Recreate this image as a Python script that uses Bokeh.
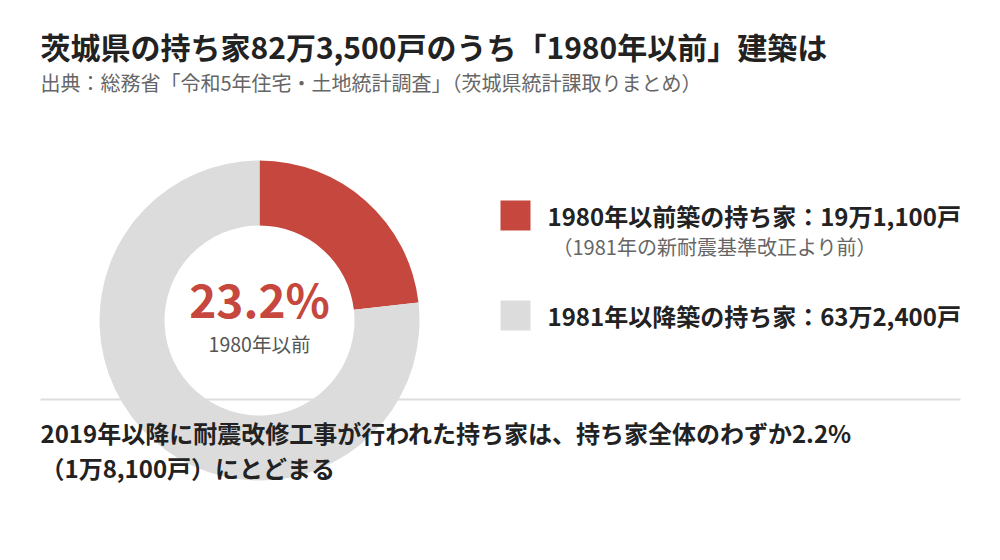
import math
from bokeh.plotting import figure
from bokeh.models import Range1d
from bokeh.core.properties import value
from bokeh.embed import file_html
from bokeh.resources import INLINE

# ---- data ----
categories = ["1980年以前築", "1981年以降築"]
households = [191100, 632400]
colors = ["#c5473d", "#dcdcdc"]
legend_labels = ["1980年以前築の持ち家：19万1,100戸", "1981年以降築の持ち家：63万2,400戸"]
legend_notes = ["（1981年の新耐震基準改正より前）", ""]
center_value = "23.2%"
center_label = "1980年以前"
title = "茨城県の持ち家82万3,500戸のうち「1980年以前」建築は"
subtitle = "出典：総務省「令和5年住宅・土地統計調査」（茨城県統計課取りまとめ）"
footnote_lines = ["2019年以降に耐震改修工事が行われた持ち家は、持ち家全体のわずか2.2%",
                  "（1万8,100戸）にとどまる"]

FONT = value("Noto Sans CJK JP")
W, H = 984, 544

def Y(py):
    return 560 - py

p = figure(width=W, height=H, output_backend="svg", toolbar_location=None,
           x_range=Range1d(0, 984), y_range=Range1d(16, 560),
           min_border=0, outline_line_color=None, background_fill_color="white",
           border_fill_color="white")
p.axis.visible = False
p.xgrid.visible = False
p.ygrid.visible = False

# donut
total = sum(households)
cx, cy = 259, Y(320)
start = math.pi / 2
for v, c in zip(households, colors):
    ang = 2 * math.pi * v / total
    p.annular_wedge(x=[cx], y=[cy], inner_radius=95, outer_radius=160,
                    start_angle=[start - ang], end_angle=[start],
                    fill_color=c, line_color=None,
                    inner_radius_units="data", outer_radius_units="data")
    start -= ang

# title
p.text(x=[40], y=[Y(45)], text=[title], text_font=FONT, text_font_style="bold",
       text_font_size="30px", text_color="#222222", text_baseline="middle")
p.text(x=[40], y=[Y(82)], text=[subtitle], text_font=FONT,
       text_font_size="20px", text_color="#666666", text_baseline="middle")

# center
p.text(x=[cx], y=[Y(297)], text=[center_value], text_font=FONT, text_font_style="bold",
       text_font_size="46px", text_color=colors[0], text_align="center", text_baseline="middle")
p.text(x=[cx], y=[Y(343)], text=[center_label], text_font=FONT,
       text_font_size="19.5px", text_color="#555555", text_align="center", text_baseline="middle")

# legend
leg_y = [215, 315]
for i in range(2):
    p.rect(x=[515], y=[Y(leg_y[i])], width=30, height=30, fill_color=colors[i], line_color=None)
    p.text(x=[547], y=[Y(leg_y[i])], text=[legend_labels[i]], text_font=FONT, text_font_style="bold",
           text_font_size="24px", text_color="#222222", text_baseline="middle")
    if legend_notes[i]:
        p.text(x=[552], y=[Y(leg_y[i] + 31)], text=[legend_notes[i]], text_font=FONT,
               text_font_size="20px", text_color="#666666", text_baseline="middle")

# separator
p.line(x=[40, 960], y=[Y(399), Y(399)], line_color="#dddddd", line_width=2)

# footnote
for j, line in enumerate(footnote_lines):
    p.text(x=[40], y=[Y(432 + 35 * j)], text=[line], text_font=FONT, text_font_style="bold",
           text_font_size="24px", text_color="#222222", text_baseline="middle")

open("out.html", "w").write(file_html(p, INLINE))
